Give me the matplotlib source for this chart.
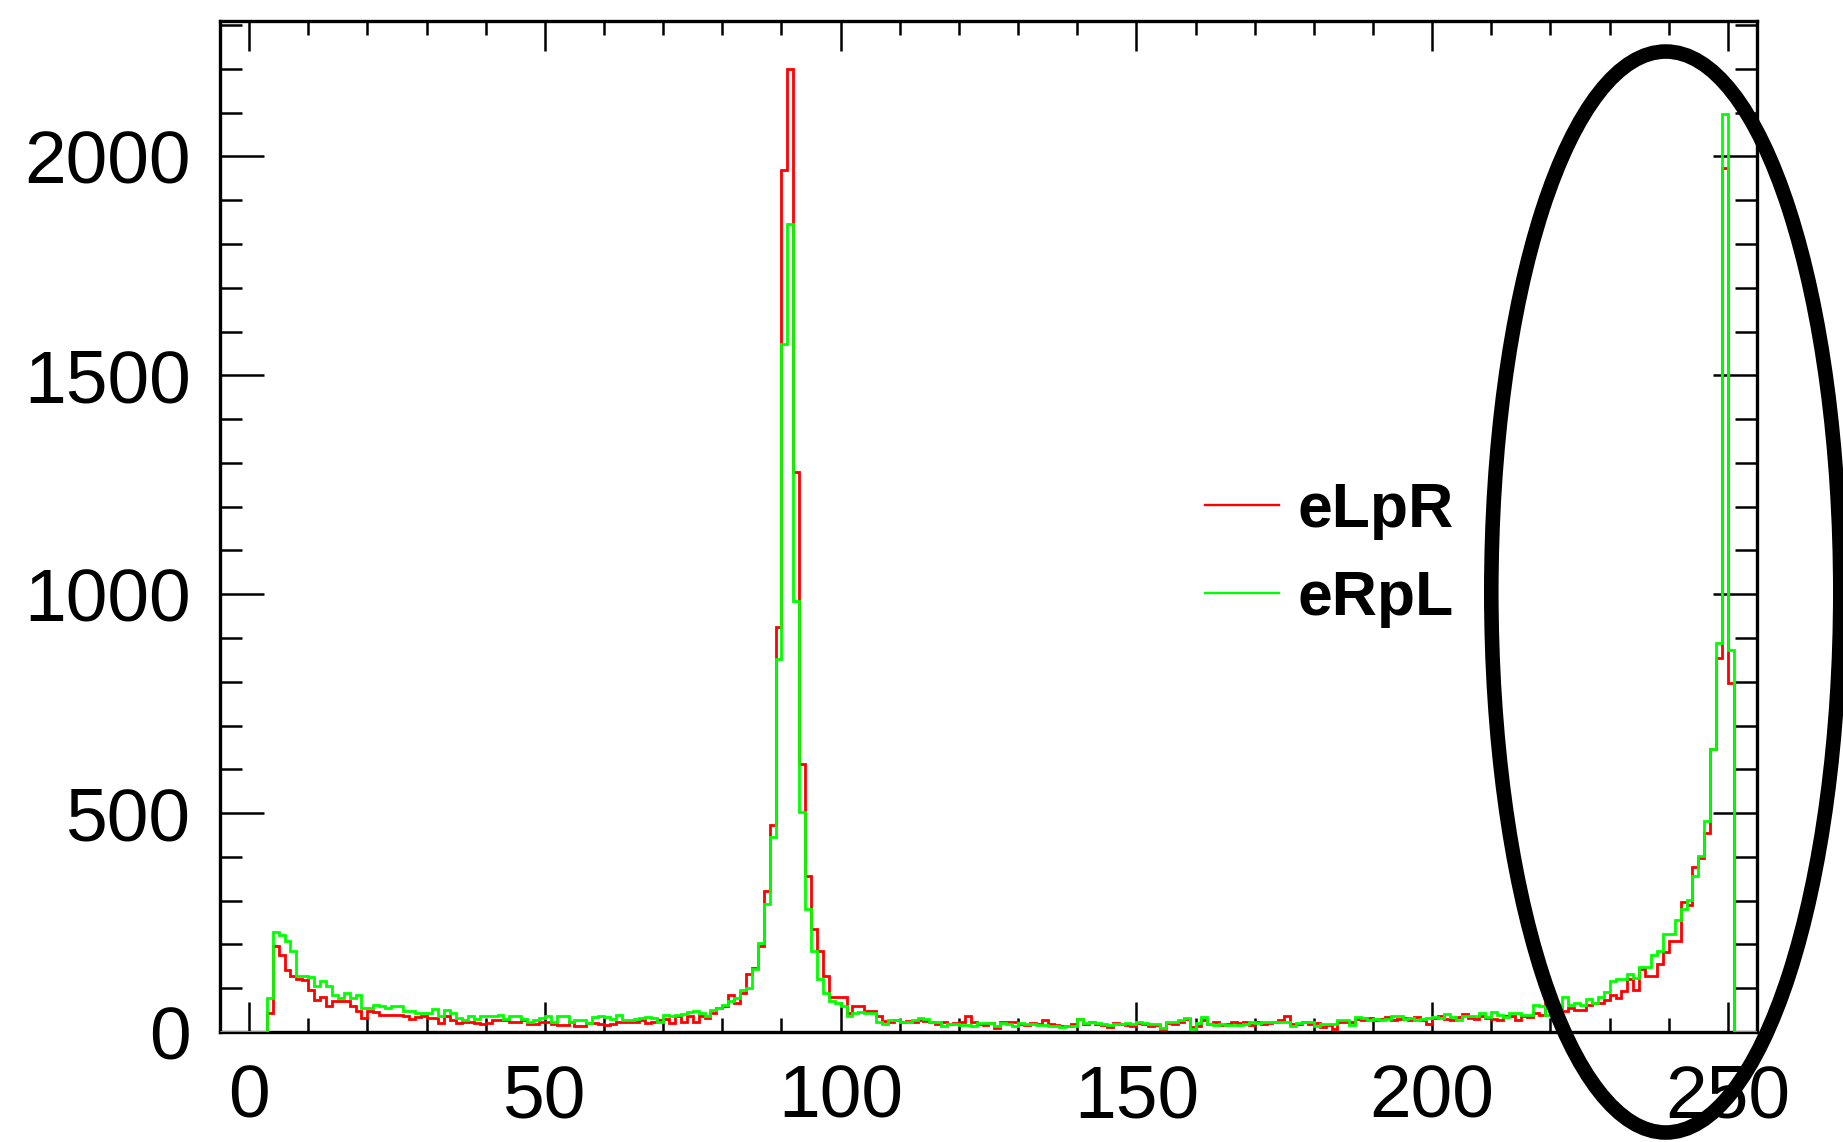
import matplotlib
matplotlib.use("Agg")
import matplotlib.pyplot as plt
import numpy as np
from matplotlib.lines import Line2D
from matplotlib.patches import Ellipse
from matplotlib.ticker import MultipleLocator

plt.rcParams['font.family'] = ['Liberation Sans', 'DejaVu Sans']

# histogram binning: 260 bins of width 1 from -5 to 255
x_lo, x_hi = -5, 255
edges = np.arange(x_lo, x_hi + 1, 1)

# bin contents, 10 bins per row (first row = bins -5..4)
red_counts = [
    0, 0, 0, 0, 0, 0, 0, 0, 43, 196,
    177, 142, 127, 122, 118, 97, 74, 81, 60, 72,
    70, 70, 59, 47, 32, 47, 45, 40, 40, 40,
    40, 37, 30, 34, 37, 32, 32, 21, 36, 27,
    21, 24, 24, 21, 19, 21, 28, 27, 28, 22,
    24, 27, 19, 19, 24, 24, 19, 17, 17, 24,
    13, 13, 21, 21, 19, 17, 19, 24, 22, 22,
    24, 28, 21, 22, 28, 30, 21, 36, 24, 36,
    24, 37, 32, 43, 55, 59, 85, 66, 89, 133,
    146, 196, 321, 474, 925, 1970, 2200, 1279, 612, 357,
    235, 184, 127, 81, 81, 81, 43, 59, 59, 47,
    47, 36, 25, 22, 27, 22, 25, 24, 27, 25,
    22, 19, 24, 19, 21, 24, 36, 22, 19, 17,
    21, 9, 22, 22, 22, 19, 17, 21, 19, 27,
    19, 17, 13, 13, 19, 30, 19, 24, 19, 17,
    11, 21, 19, 17, 13, 21, 19, 13, 17, 7,
    21, 19, 24, 30, 11, 13, 28, 19, 22, 17,
    19, 24, 21, 22, 17, 24, 19, 21, 24, 28,
    36, 19, 19, 22, 19, 21, 11, 17, 7, 22,
    24, 22, 30, 28, 32, 28, 30, 34, 28, 30,
    32, 27, 34, 28, 19, 32, 36, 30, 28, 34,
    42, 32, 30, 36, 32, 30, 27, 37, 36, 27,
    36, 34, 43, 40, 66, 47, 55, 47, 55, 51,
    51, 62, 66, 66, 74, 85, 78, 93, 120, 97,
    144, 127, 127, 156, 182, 207, 207, 298, 291, 378,
    397, 454, 646, 854, 1974, 797, 0, 0, 0, 0,
]

green_counts = [
    0, 0, 0, 0, 0, 0, 0, 0, 78, 228,
    222, 207, 184, 129, 127, 126, 104, 116, 106, 85,
    78, 89, 78, 85, 55, 55, 62, 59, 55, 59,
    59, 47, 47, 43, 43, 43, 53, 36, 51, 43,
    32, 28, 36, 30, 36, 36, 36, 40, 30, 36,
    36, 30, 24, 28, 32, 36, 24, 37, 36, 22,
    27, 27, 21, 34, 36, 34, 30, 40, 28, 28,
    30, 32, 34, 32, 24, 40, 36, 40, 42, 45,
    47, 43, 36, 51, 55, 62, 70, 78, 97, 100,
    144, 203, 293, 445, 853, 1571, 1846, 984, 503, 281,
    184, 121, 89, 72, 66, 59, 36, 43, 45, 43,
    43, 24, 19, 27, 27, 24, 22, 27, 32, 30,
    24, 22, 14, 19, 19, 17, 17, 14, 21, 21,
    21, 13, 21, 19, 13, 21, 19, 19, 17, 17,
    13, 13, 11, 14, 14, 30, 21, 24, 21, 19,
    17, 19, 19, 21, 19, 22, 21, 19, 19, 9,
    22, 22, 28, 32, 7, 21, 34, 19, 17, 19,
    17, 17, 17, 19, 24, 21, 22, 24, 22, 24,
    22, 14, 21, 24, 22, 14, 19, 19, 19, 28,
    28, 17, 34, 32, 28, 30, 28, 30, 36, 36,
    30, 32, 28, 30, 32, 34, 32, 42, 34, 28,
    36, 36, 36, 43, 34, 45, 40, 34, 43, 43,
    40, 40, 62, 59, 40, 40, 51, 81, 62, 66,
    62, 75, 66, 81, 91, 116, 120, 120, 132, 123,
    148, 148, 177, 184, 224, 224, 257, 281, 302, 357,
    403, 481, 646, 888, 2096, 873, 0, 0, 0, 0,
]

series_names = ['eLpR', 'eRpL']
series_colors = ['#ff0000', '#00ff00']

x_major = [0, 50, 100, 150, 200, 250]
y_major = [0, 500, 1000, 1500, 2000]
y_max = 2310

fig = plt.figure(figsize=(18.43, 11.42), dpi=100)
ax = fig.add_axes([0.1191, 0.0963, 0.8345, 0.8856])

# red first, green drawn on top of it (and on top of the frame, like ROOT)
ax.stairs(red_counts, edges, color=series_colors[0], lw=2.0, zorder=3)
ax.stairs(green_counts, edges, color=series_colors[1], lw=2.0, zorder=3)

ax.set_xlim(x_lo, x_hi)
ax.set_ylim(0, y_max)

ax.set_xticks(x_major)
ax.set_yticks(y_major)
ax.xaxis.set_minor_locator(MultipleLocator(10))
ax.yaxis.set_minor_locator(MultipleLocator(100))

# ROOT style ticks: inside, on all four sides
ax.tick_params(which='both', direction='in', top=True, right=True, width=1.8,
               labelsize=54)
ax.tick_params(axis='x', which='major', length=21.6, pad=23)
ax.tick_params(axis='x', which='minor', length=10)
ax.tick_params(axis='y', which='major', length=32, pad=20.5)
ax.tick_params(axis='y', which='minor', length=16)
for s in ax.spines.values():
    s.set_linewidth(2.4)

custom_lines = [Line2D([0], [0], color=c, lw=1.7) for c in series_colors]
ax.legend(custom_lines, series_names, loc='upper left',
          bbox_to_anchor=(1205 / 1843, 1 - 481 / 1142), bbox_transform=fig.transFigure,
          frameon=False, borderpad=0, borderaxespad=0,
          handlelength=1.18, handletextpad=0.3, labelspacing=0.47,
          prop={'family': 'Liberation Sans', 'weight': 'bold', 'size': 45})

# hand drawn highlight around the high-mass end
ring = Ellipse((239.5, 1005), 59.0, 2469, fill=False, ec='black', lw=10.5,
               clip_on=False, zorder=10)
ax.add_patch(ring)

fig.savefig('out.png', dpi=100)
